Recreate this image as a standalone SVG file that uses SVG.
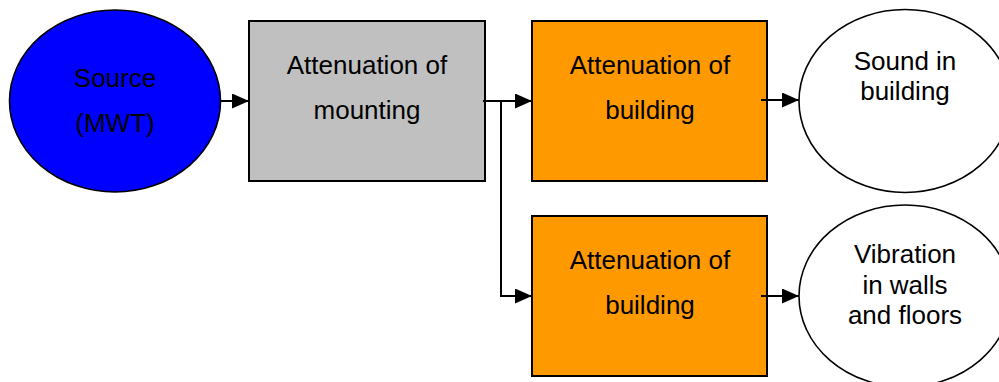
<svg xmlns="http://www.w3.org/2000/svg" width="999" height="382" viewBox="0 0 999 382">
  <style>
    .label { font-family: "Liberation Sans", Arial, sans-serif; font-size: 26px; fill: #000; text-anchor: middle; }
    .box { stroke: #000; stroke-width: 2; }
    .oval { stroke: #000; stroke-width: 1.6; }
    .wire { fill: none; stroke: #000; stroke-width: 2; }
  </style>
  <defs>
    <marker id="arrow" markerUnits="userSpaceOnUse" markerWidth="17" markerHeight="15" refX="17" refY="7.5" orient="auto">
      <path d="M0,0 L17,7.5 L0,15 Z" fill="#000"/>
    </marker>
  </defs>
  <rect width="999" height="382" fill="#fff"/>

  <g id="source">
    <ellipse class="oval" cx="115" cy="101" rx="105.5" ry="91" fill="#0000FF"/>
    <text class="label" x="115" y="87">Source</text>
    <text class="label" x="115" y="132">(MWT)</text>
  </g>

  <g id="mounting">
    <rect class="box" x="249" y="21" width="236" height="160" fill="#C0C0C0"/>
    <text class="label" x="367" y="74">Attenuation of</text>
    <text class="label" x="367" y="119">mounting</text>
  </g>

  <g id="building-sound">
    <rect class="box" x="532" y="21" width="235" height="160" fill="#FF9900"/>
    <text class="label" x="650" y="74">Attenuation of</text>
    <text class="label" x="650" y="119">building</text>
  </g>

  <g id="building-vibration">
    <rect class="box" x="532" y="216" width="235" height="160" fill="#FF9900"/>
    <text class="label" x="650" y="269">Attenuation of</text>
    <text class="label" x="650" y="314">building</text>
  </g>

  <g id="sound">
    <ellipse class="oval" cx="905" cy="101" rx="106" ry="91.5" fill="#fff"/>
    <text class="label" x="905" y="70">Sound in</text>
    <text class="label" x="905" y="100">building</text>
  </g>

  <g id="vibration">
    <ellipse class="oval" cx="905" cy="296" rx="106" ry="91" fill="#fff"/>
    <text class="label" x="905" y="263">Vibration</text>
    <text class="label" x="905" y="294">in walls</text>
    <text class="label" x="905" y="324">and floors</text>
  </g>

  <g id="connectors">
    <path class="wire" d="M221,101 H249" marker-end="url(#arrow)"/>
    <path class="wire" d="M483,101 H532" marker-end="url(#arrow)"/>
    <path class="wire" d="M501,101 V296 H532" marker-end="url(#arrow)"/>
    <path class="wire" d="M761,100 H799" marker-end="url(#arrow)"/>
    <path class="wire" d="M761,296 H799" marker-end="url(#arrow)"/>
  </g>
</svg>
